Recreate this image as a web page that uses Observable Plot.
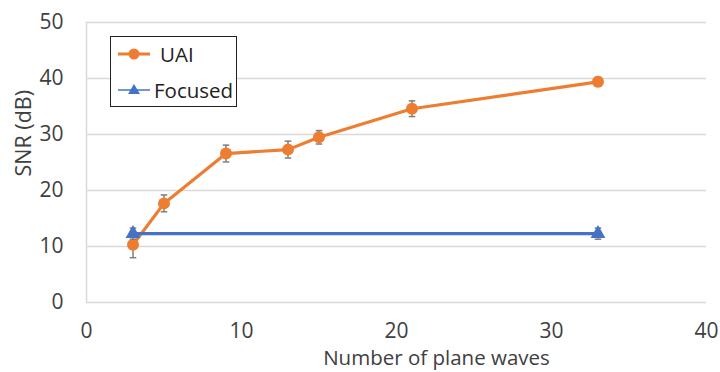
<!DOCTYPE html>
<html>
<head>
<meta charset="utf-8">
<script src="https://cdn.jsdelivr.net/npm/d3@7"></script>
<script src="https://cdn.jsdelivr.net/npm/@observablehq/plot@0.6"></script>
<style>
  html, body { margin: 0; padding: 0; background: #fff; }
  #wrap { position: relative; width: 720px; height: 372px; font-family: "Open Sans", sans-serif; }
  #legend { position: absolute; left: 110px; top: 36px; width: 125px; height: 69px; border: 1.5px solid #222; background: #fff; font-size: 20.5px; color: #222; }
  .item { position: absolute; left: 7px; display: flex; align-items: center; }
  .item svg { display: block; }
</style>
</head>
<body>
<div id="wrap">
  <div id="chart"></div>
  <div id="legend">
    <div class="item" style="top:2px"><svg width="34" height="30"><line x1="0" y1="15" x2="32" y2="15" stroke="#ED7D31" stroke-width="3"/><circle cx="16" cy="15" r="5.5" fill="#ED7D31"/></svg><span style="margin-left:8px">UAI</span></div>
    <div class="item" style="top:38px"><svg width="34" height="30"><line x1="0" y1="15" x2="32" y2="15" stroke="#4472C4" stroke-width="1.5"/><path d="M16,9 L22,19 L10,19 Z" fill="#4472C4"/></svg><span style="margin-left:2px">Focused</span></div>
  </div>
</div>
<script>
// Data
const uaiX = [3, 5, 9, 13, 15, 21, 33];
const uaiY = [10.3, 17.7, 26.6, 27.3, 29.5, 34.6, 39.4];
const uaiErr = [2.3, 1.5, 1.5, 1.5, 1.2, 1.4, 0.8];
const focX = [3, 33];
const focY = [12.3, 12.3];
const focErr = [1.0, 1.0];
const xTicks = [0, 10, 20, 30, 40];
const yTicks = [0, 10, 20, 30, 40, 50];

const uai = uaiX.map((x, i) => ({x, y: uaiY[i], lo: uaiY[i] - uaiErr[i], hi: uaiY[i] + uaiErr[i]}));
const foc = focX.map((x, i) => ({x, y: focY[i], lo: focY[i] - focErr[i], hi: focY[i] + focErr[i]}));

const cap = {draw(ctx, size) { const r = Math.sqrt(size) / 2; ctx.moveTo(-r, 0); ctx.lineTo(r, 0); }};
const grey = "#7f7f7f";

function errorMarks(data) {
  return [
    Plot.ruleX(data, {x: "x", y1: "lo", y2: "hi", stroke: grey, strokeWidth: 1.5}),
    Plot.dot(data, {x: "x", y: "lo", symbol: cap, r: 3.7, stroke: grey, strokeWidth: 1.5, fill: "none"}),
    Plot.dot(data, {x: "x", y: "hi", symbol: cap, r: 3.7, stroke: grey, strokeWidth: 1.5, fill: "none"})
  ];
}

const chart = Plot.plot({
  width: 720,
  height: 372,
  marginLeft: 86,
  marginRight: 14,
  marginTop: 22,
  marginBottom: 70,
  style: {fontFamily: "Open Sans, sans-serif", fontSize: "21px", color: "#404040", background: "#fff"},
  x: {domain: [0, 40]},
  y: {domain: [0, 50]},
  marks: [
    Plot.gridY(yTicks, {stroke: "#d9d9d9", strokeOpacity: 1, strokeWidth: 1.5}),
    Plot.ruleX([0], {stroke: "#d9d9d9", strokeWidth: 1.5}),
    Plot.axisX(xTicks, {tickSize: 0, tickPadding: 21, label: null, fill: "#404040", fontSize: 21}),
    Plot.axisY(yTicks, {tickSize: 0, tickPadding: 23, label: null, fill: "#404040", fontSize: 21}),
    Plot.text(["Number of plane waves"], {frameAnchor: "bottom", dx: 40, dy: 62, fill: "#404040", fontSize: 20.5}),
    Plot.text(["SNR (dB)"], {frameAnchor: "left", rotate: -90, dx: -62, dy: 14, fill: "#404040", fontSize: 21.5}),
    Plot.line(uai, {x: "x", y: "y", stroke: "#ED7D31", strokeWidth: 3.2}),
    ...errorMarks(uai),
    Plot.dot(uai, {x: "x", y: "y", r: 6, fill: "#ED7D31", stroke: "none"}),
    Plot.line(foc, {x: "x", y: "y", stroke: "#4472C4", strokeWidth: 3.2}),
    ...errorMarks(foc),
    Plot.dot(foc, {x: "x", y: "y", symbol: "triangle", r: 5.5, fill: "#4472C4", stroke: "none"})
  ]
});
document.getElementById("chart").appendChild(chart);
</script>
</body>
</html>
